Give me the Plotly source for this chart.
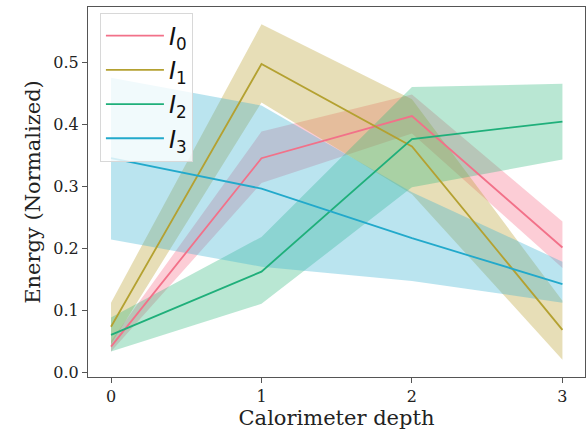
import plotly.graph_objects as go

# Calorimeter depth layers
depth = [0, 1, 2, 3]

# Mean normalized energy per layer and the lower/upper band for each series
i0_mean = [0.041, 0.345, 0.413, 0.201]
i0_lo = [0.033, 0.305, 0.385, 0.168]
i0_hi = [0.050, 0.388, 0.448, 0.243]

i1_mean = [0.073, 0.497, 0.364, 0.068]
i1_lo = [0.045, 0.435, 0.287, 0.020]
i1_hi = [0.112, 0.561, 0.440, 0.115]

i2_mean = [0.060, 0.162, 0.376, 0.404]
i2_lo = [0.033, 0.110, 0.298, 0.343]
i2_hi = [0.088, 0.218, 0.460, 0.465]

i3_mean = [0.345, 0.296, 0.216, 0.142]
i3_lo = [0.214, 0.170, 0.147, 0.112]
i3_hi = [0.475, 0.430, 0.290, 0.178]

names = ["<i>I</i><sub>0</sub>", "<i>I</i><sub>1</sub>",
         "<i>I</i><sub>2</sub>", "<i>I</i><sub>3</sub>"]
line_colors = ["#f27189", "#b4a131", "#1faf7a", "#22a9cb"]
fill_colors = ["rgba(247,113,137,0.35)", "rgba(187,160,50,0.35)",
               "rgba(54,186,130,0.35)", "rgba(56,178,208,0.35)"]

series = [
    (i0_mean, i0_lo, i0_hi),
    (i1_mean, i1_lo, i1_hi),
    (i2_mean, i2_lo, i2_hi),
    (i3_mean, i3_lo, i3_hi),
]

fig = go.Figure()

# Shaded spread bands first, so every mean line sits on top
for (mean, lo, hi), fc in zip(series, fill_colors):
    fig.add_trace(go.Scatter(
        x=depth + depth[::-1],
        y=hi + lo[::-1],
        fill="toself",
        fillcolor=fc,
        line=dict(width=0),
        mode="lines",
        hoverinfo="skip",
        showlegend=False,
    ))

for (mean, lo, hi), name, lc in zip(series, names, line_colors):
    fig.add_trace(go.Scatter(
        x=depth,
        y=mean,
        mode="lines",
        name=name,
        line=dict(color=lc, width=1.8),
    ))

axis_font = dict(family="DejaVu Serif", size=16, color="#222")
title_font = dict(family="DejaVu Serif", size=21, color="#222")

fig.update_layout(
    width=587,
    height=430,
    margin=dict(l=88, r=2, t=7, b=53),
    paper_bgcolor="white",
    plot_bgcolor="white",
    showlegend=True,
    legend=dict(
        x=0.024, y=0.985, xanchor="left", yanchor="top",
        bgcolor="rgba(255,255,255,0.8)",
        bordercolor="#d8d8d8", borderwidth=1,
        font=dict(family="DejaVu Sans", size=24, color="#111"),
        tracegroupgap=0,
        itemwidth=58,
    ),
    xaxis=dict(
        range=[-0.153, 3.15],
        tickvals=depth,
        ticktext=[str(d) for d in depth],
        ticks="outside", ticklen=5, tickcolor="#555",
        showline=True, linecolor="#555", linewidth=1.2, mirror=True,
        showgrid=False, zeroline=False,
        tickfont=axis_font,
        title=dict(text="Calorimeter depth", font=title_font, standoff=6),
    ),
    yaxis=dict(
        range=[-0.008, 0.589],
        tickvals=[0.0, 0.1, 0.2, 0.3, 0.4, 0.5],
        tickformat=".1f",
        ticks="outside", ticklen=5, tickcolor="#555",
        showline=True, linecolor="#555", linewidth=1.2, mirror=True,
        showgrid=False, zeroline=False,
        tickfont=axis_font,
        title=dict(text="Energy (Normalized)", font=title_font, standoff=6),
    ),
)

fig.write_html("out.html")
